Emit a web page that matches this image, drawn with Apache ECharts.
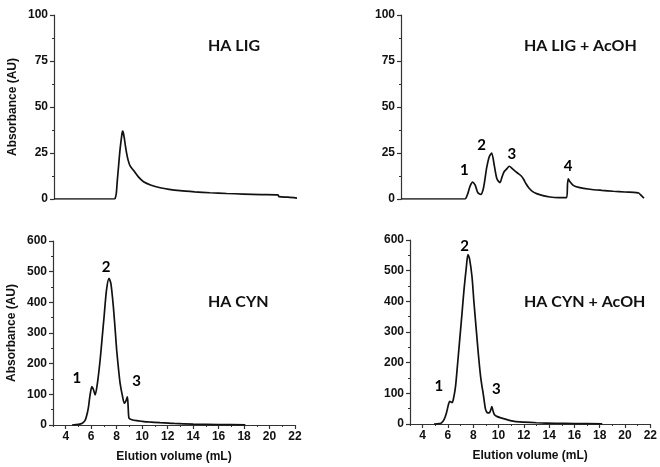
<!DOCTYPE html>
<html>
<head>
<meta charset="utf-8">
<script src="https://cdn.jsdelivr.net/npm/echarts@6/dist/echarts.min.js"></script>
<style>
html,body{margin:0;padding:0;background:#fff;}
#chart{width:660px;height:467px;}
</style>
</head>
<body>
<div id="chart"></div>
<script>
// ---- Data ----
const panelTitles = ['HA LIG', 'HA LIG + AcOH', 'HA CYN', 'HA CYN + AcOH'];
const xTickLabels = [4, 6, 8, 10, 12, 14, 16, 18, 20, 22];
const xMinorTicks = [3, 5, 7, 9, 11, 13, 15, 17, 19, 21];

const ligX = [3, 7.7, 7.78, 7.87, 7.95, 8.05, 8.15, 8.25, 8.33, 8.37, 8.42, 8.5, 8.58, 8.68, 8.8, 8.95, 9.2, 9.6, 10.0, 10.6, 11.3, 12.0, 12.85, 14.0, 15.2, 16.5, 17.8, 19.2, 20.5, 20.6, 21.3, 22.0];
const ligY = [0, 0, 0.3, 3, 10, 18, 26, 32, 36, 36.9, 36, 33, 29, 24.8, 21, 18, 15.7, 12, 9.4, 7.5, 6.1, 5.2, 4.5, 3.9, 3.4, 3.0, 2.7, 2.4, 2.2, 1.3, 1.0, 0.5];

const ligAcX = [3, 8.0, 8.2, 8.4, 8.6, 8.8, 9.0, 9.23, 9.45, 9.7, 9.9, 10.09, 10.3, 10.5, 10.74, 10.9, 11.05, 11.25, 11.47, 11.7, 11.95, 12.17, 12.4, 12.56, 12.8, 13.0, 13.3, 13.6, 14.1, 14.65, 15.3, 15.95, 16.02, 16.08, 16.2, 16.47, 16.9, 17.78, 18.7, 19.6, 20.5, 21.4, 21.6, 21.8, 22.0];
const ligAcY = [0, 0, 2.5, 7, 9.2, 7.5, 3.5, 2.5, 6, 17, 23, 25, 18, 11, 8.9, 12, 14.7, 16.2, 17.8, 16.5, 15, 13.8, 12.5, 11, 8, 6, 4, 2.9, 1.8, 1.1, 0.8, 0.8, 8, 11, 9.5, 7.4, 6.3, 5.3, 4.7, 4.2, 3.8, 3.5, 3.2, 1.8, 0.5];

const cynX = [4.5, 5.0, 5.3, 5.53, 5.7, 5.79, 5.9, 6.05, 6.18, 6.31, 6.5, 6.7, 6.85, 7.01, 7.2, 7.4, 7.55, 7.74, 7.9, 8.0, 8.15, 8.27, 8.45, 8.6, 8.72, 8.84, 8.9, 8.97, 9.2, 9.57, 10.0, 10.5, 11.4, 12.5, 14.0, 16.0, 18.1];
const cynY = [0, 2, 6, 16, 40, 60, 95, 125, 115, 98, 140, 212, 280, 353, 440, 478, 460, 385, 300, 244, 180, 136, 95, 71, 78, 92, 60, 22, 17, 14, 12, 10, 7.5, 5, 3, 1.5, 0.5];

const cynAcX = [4.9, 5.3, 5.49, 5.7, 5.88, 6.05, 6.14, 6.33, 6.45, 6.6, 6.75, 6.93, 7.1, 7.27, 7.45, 7.58, 7.7, 7.9, 8.05, 8.24, 8.4, 8.58, 8.7, 8.76, 8.85, 8.95, 9.05, 9.16, 9.3, 9.4, 9.47, 9.55, 9.68, 9.9, 10.2, 10.6, 11.25, 12.0, 13.0, 14.5, 16.0, 18.2];
const cynAcY = [0, 1, 4, 15, 36, 65, 74, 70, 85, 123, 190, 275, 355, 438, 510, 552, 540, 481, 400, 307, 230, 155, 120, 106, 80, 52, 40, 36, 38, 48, 57, 45, 30, 24, 20, 15, 8.5, 6, 4, 2.5, 1.5, 0.5];

// peak label anchors (data units)
const ligAcPeakLabels = ['1', '2', '3', '4'];
const ligAcPeakX = [7.95, 9.31, 11.66, 16.06];
const ligAcPeakY = [15.6, 29.2, 24.3, 17.8];
const cynPeakLabels = ['1', '2', '3'];
const cynPeakX = [4.88, 7.17, 9.57];
const cynPeakY = [152, 515, 143];
const cynAcPeakLabels = ['1', '2', '3'];
const cynAcPeakX = [5.28, 7.32, 9.82];
const cynAcPeakY = [125, 581, 115];

// ---- Build ----
const zip = (xs, ys) => xs.map((x, i) => [x, ys[i]]);
const lblData = (t, xs, ys) => xs.map((x, i) => ({ value: [x, ys[i]], name: t[i] }));

const axisColor = '#333';
const tickFont = { fontFamily: 'Liberation Sans, Arial, sans-serif', fontWeight: 'bold', fontSize: 12, color: '#111' };
const nameFont = { fontFamily: 'Liberation Sans, Arial, sans-serif', fontWeight: 'bold', fontSize: 12, color: '#111' };

const grids = [
  { left: 54, top: 15, width: 243, height: 184 },
  { left: 401, top: 15, width: 243, height: 184 },
  { left: 53, top: 241, width: 242, height: 184 },
  { left: 410, top: 240, width: 242, height: 184 }
];

const xAxes = [];
const yAxes = [];
for (let g = 0; g < 4; g++) {
  const bottom = g >= 2;
  xAxes.push({
    type: 'value', gridIndex: g, min: 3, max: 22, show: bottom, position: 'bottom',
    axisLine: { show: true, onZero: false, lineStyle: { color: axisColor, width: 1.2 } },
    axisTick: { show: true, customValues: xTickLabels, length: 4, lineStyle: { color: axisColor, width: 1.2 } },
    axisLabel: { show: true, customValues: xTickLabels, margin: 6, ...tickFont },
    splitLine: { show: false },
    name: bottom ? 'Elution volume (mL)' : '', nameLocation: 'middle', nameGap: 26, nameTextStyle: nameFont
  });
  yAxes.push({
    type: 'value', gridIndex: g, min: 0, max: bottom ? 600 : 100, interval: bottom ? 100 : 25,
    axisLine: { show: true, lineStyle: { color: axisColor, width: 1.2 } },
    axisTick: { show: true, length: 4, lineStyle: { color: axisColor, width: 1.2 } },
    minorTick: { show: true, splitNumber: 2, length: 2, lineStyle: { color: axisColor, width: 1 } },
    axisLabel: { margin: 6, ...tickFont },
    splitLine: { show: false },
    name: (g === 0 || g === 2) ? 'Absorbance (AU)' : '', nameLocation: 'middle', nameGap: 35, nameRotate: 90,
    nameTextStyle: nameFont
  });
}
// minor x ticks for bottom panels
for (const g of [2, 3]) {
  xAxes.push({
    type: 'value', gridIndex: g, min: 3, max: 22, position: 'bottom',
    axisLine: { show: false },
    axisTick: { show: true, customValues: xMinorTicks, length: 2, lineStyle: { color: axisColor, width: 1 } },
    axisLabel: { show: false },
    splitLine: { show: false }
  });
}

const lineSeries = (g, data) => ({
  type: 'line', xAxisIndex: g, yAxisIndex: g, data, showSymbol: false, symbol: 'none',
  smooth: 0.25, lineStyle: { color: '#111', width: 1.7 }, animation: false, silent: true
});
const labelSeries = (g, data) => ({
  type: 'scatter', xAxisIndex: g, yAxisIndex: g, data, symbolSize: 1,
  itemStyle: { color: 'rgba(0,0,0,0)', opacity: 1 }, animation: false, silent: true,
  label: { show: true, position: 'inside', formatter: p => p.name,
    fontFamily: 'Lato, sans-serif', fontWeight: 'bold', fontSize: 15, color: '#000',
    textBorderWidth: 0 }
});

const titlePos = [[208, 46], [524, 46], [208, 302], [524, 302]];

const option = {
  backgroundColor: '#fff',
  animation: false,
  grid: grids,
  xAxis: xAxes,
  yAxis: yAxes,
  series: [
    lineSeries(0, zip(ligX, ligY)),
    lineSeries(1, zip(ligAcX, ligAcY)),
    lineSeries(2, zip(cynX, cynY)),
    lineSeries(3, zip(cynAcX, cynAcY)),
    labelSeries(1, lblData(ligAcPeakLabels, ligAcPeakX, ligAcPeakY)),
    labelSeries(2, lblData(cynPeakLabels, cynPeakX, cynPeakY)),
    labelSeries(3, lblData(cynAcPeakLabels, cynAcPeakX, cynAcPeakY))
  ],
  graphic: panelTitles.map((t, i) => ({
    type: 'text', x: titlePos[i][0], y: titlePos[i][1],
    style: { text: t, fontFamily: 'Lato, sans-serif', fontWeight: 'bold', fontSize: 16, fill: '#111', verticalAlign: 'middle', align: 'left' }
  }))
};

const chart = echarts.init(document.getElementById('chart'), null, { renderer: 'canvas' });
chart.setOption(option);
</script>
</body>
</html>
